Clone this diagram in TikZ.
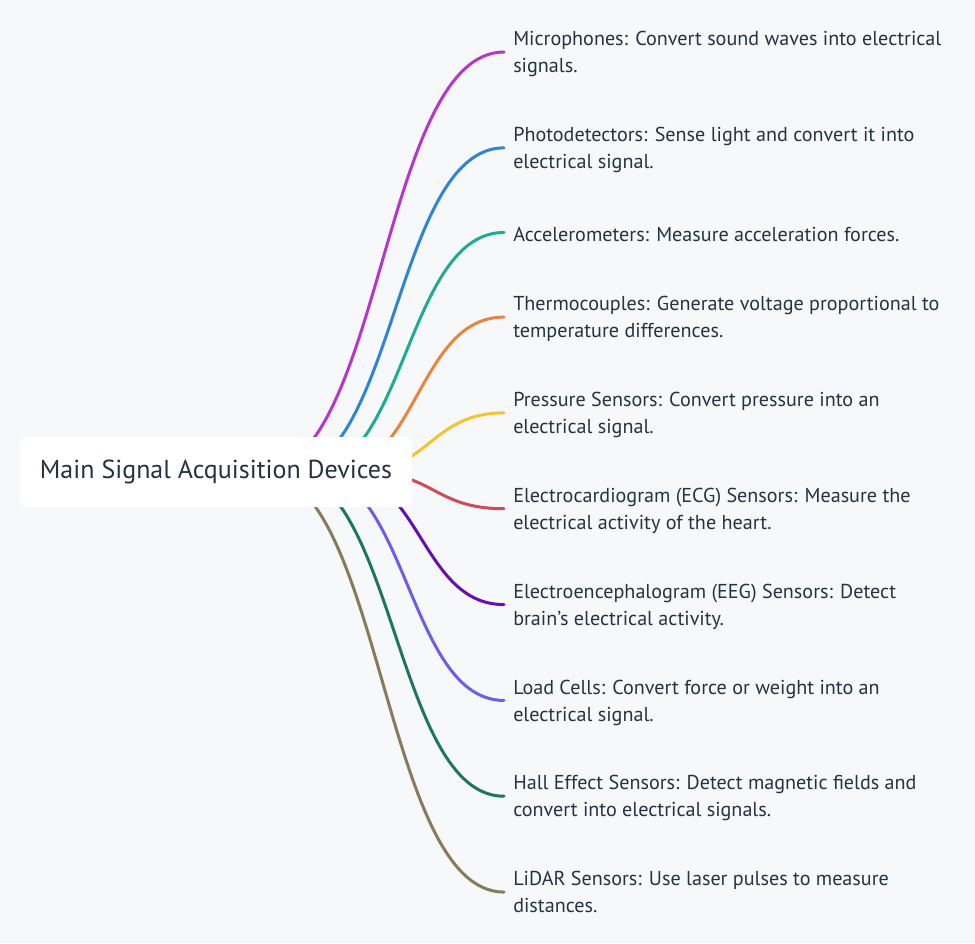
\documentclass[tikz,border=0pt]{standalone}
\usepackage{fontspec}
\setmainfont{PT Sans}
\usepackage{tikz}
\usetikzlibrary{positioning}
\usetikzlibrary{calc}
\usetikzlibrary{backgrounds}

\definecolor{pagebg}{HTML}{F7F8FA}
\definecolor{inktext}{HTML}{263241}
\definecolor{cMic}{HTML}{B536C9}
\definecolor{cPhoto}{HTML}{2F85D1}
\definecolor{cAccel}{HTML}{1FAA96}
\definecolor{cThermo}{HTML}{E8843C}
\definecolor{cPress}{HTML}{F4C430}
\definecolor{cEcg}{HTML}{D04A5A}
\definecolor{cEeg}{HTML}{6A0DB0}
\definecolor{cLoad}{HTML}{6D5DEB}
\definecolor{cHall}{HTML}{1E7561}
\definecolor{cLidar}{HTML}{8A7A5C}

\tikzset{
    rootbox/.style={fill=white, rounded corners=4.5pt, minimum width=294pt, minimum height=52.5pt,
        text=inktext, font=\fontsize{19.5}{23}\selectfont},
    leaf/.style={align=left, inner xsep=6.75pt, inner ysep=0pt, text=inktext,
        font=\fontsize{15.1}{20.25}\selectfont, execute at begin node=\strut, execute at end node=\strut},
    branch/.style={line width=2.25pt, line cap=round}
}

\begin{document}
\begin{tikzpicture}[x=0.75pt, y=-0.75pt]
    \useasboundingbox (0,0) rectangle (975,943);

    \node [rootbox] (root) at (216,472) {Main Signal Acquisition Devices};

    \node [leaf, anchor=west] (mic) at (504,56) {Microphones: Convert sound waves into electrical\\signals.};
    \node [leaf, below=34.4pt of mic.south west, anchor=north west] (photo) {Photodetectors: Sense light and convert it into\\electrical signal.};
    \node [leaf, below=34.4pt of photo.south west, anchor=north west] (accel) {Accelerometers: Measure acceleration forces.};
    \node [leaf, below=34.4pt of accel.south west, anchor=north west] (thermo) {Thermocouples: Generate voltage proportional to\\temperature differences.};
    \node [leaf, below=34.4pt of thermo.south west, anchor=north west] (press) {Pressure Sensors: Convert pressure into an\\electrical signal.};
    \node [leaf, below=34.4pt of press.south west, anchor=north west] (ecg) {Electrocardiogram (ECG) Sensors: Measure the\\electrical activity of the heart.};
    \node [leaf, below=34.4pt of ecg.south west, anchor=north west] (eeg) {Electroencephalogram (EEG) Sensors: Detect\\brain's electrical activity.};
    \node [leaf, below=34.4pt of eeg.south west, anchor=north west] (load) {Load Cells: Convert force or weight into an\\electrical signal.};
    \node [leaf, below=34.4pt of load.south west, anchor=north west] (hall) {Hall Effect Sensors: Detect magnetic fields and\\convert into electrical signals.};
    \node [leaf, below=34.4pt of hall.south west, anchor=north west] (lidar) {LiDAR Sensors: Use laser pulses to measure\\distances.};

    % branches go behind the root box
    \begin{pgfonlayer}{background}
        \fill [pagebg] (0,0) rectangle (975,943);
        \foreach \leafname/\col/\dx in {mic/cMic/44, photo/cPhoto/70, accel/cAccel/92, thermo/cThermo/115,
                press/cPress/140, ecg/cEcg/148, eeg/cEeg/122, load/cLoad/96, hall/cHall/70, lidar/cLidar/45}{
            \pgfmathsetmacro{\half}{(288-\dx)/2}
            \draw [branch, \col] ($(root.center)+(\dx,0)$) .. controls +(\half,0) and +(-\half,0) .. ([yshift=3pt]\leafname.west);
        }
    \end{pgfonlayer}
\end{tikzpicture}
\end{document}
